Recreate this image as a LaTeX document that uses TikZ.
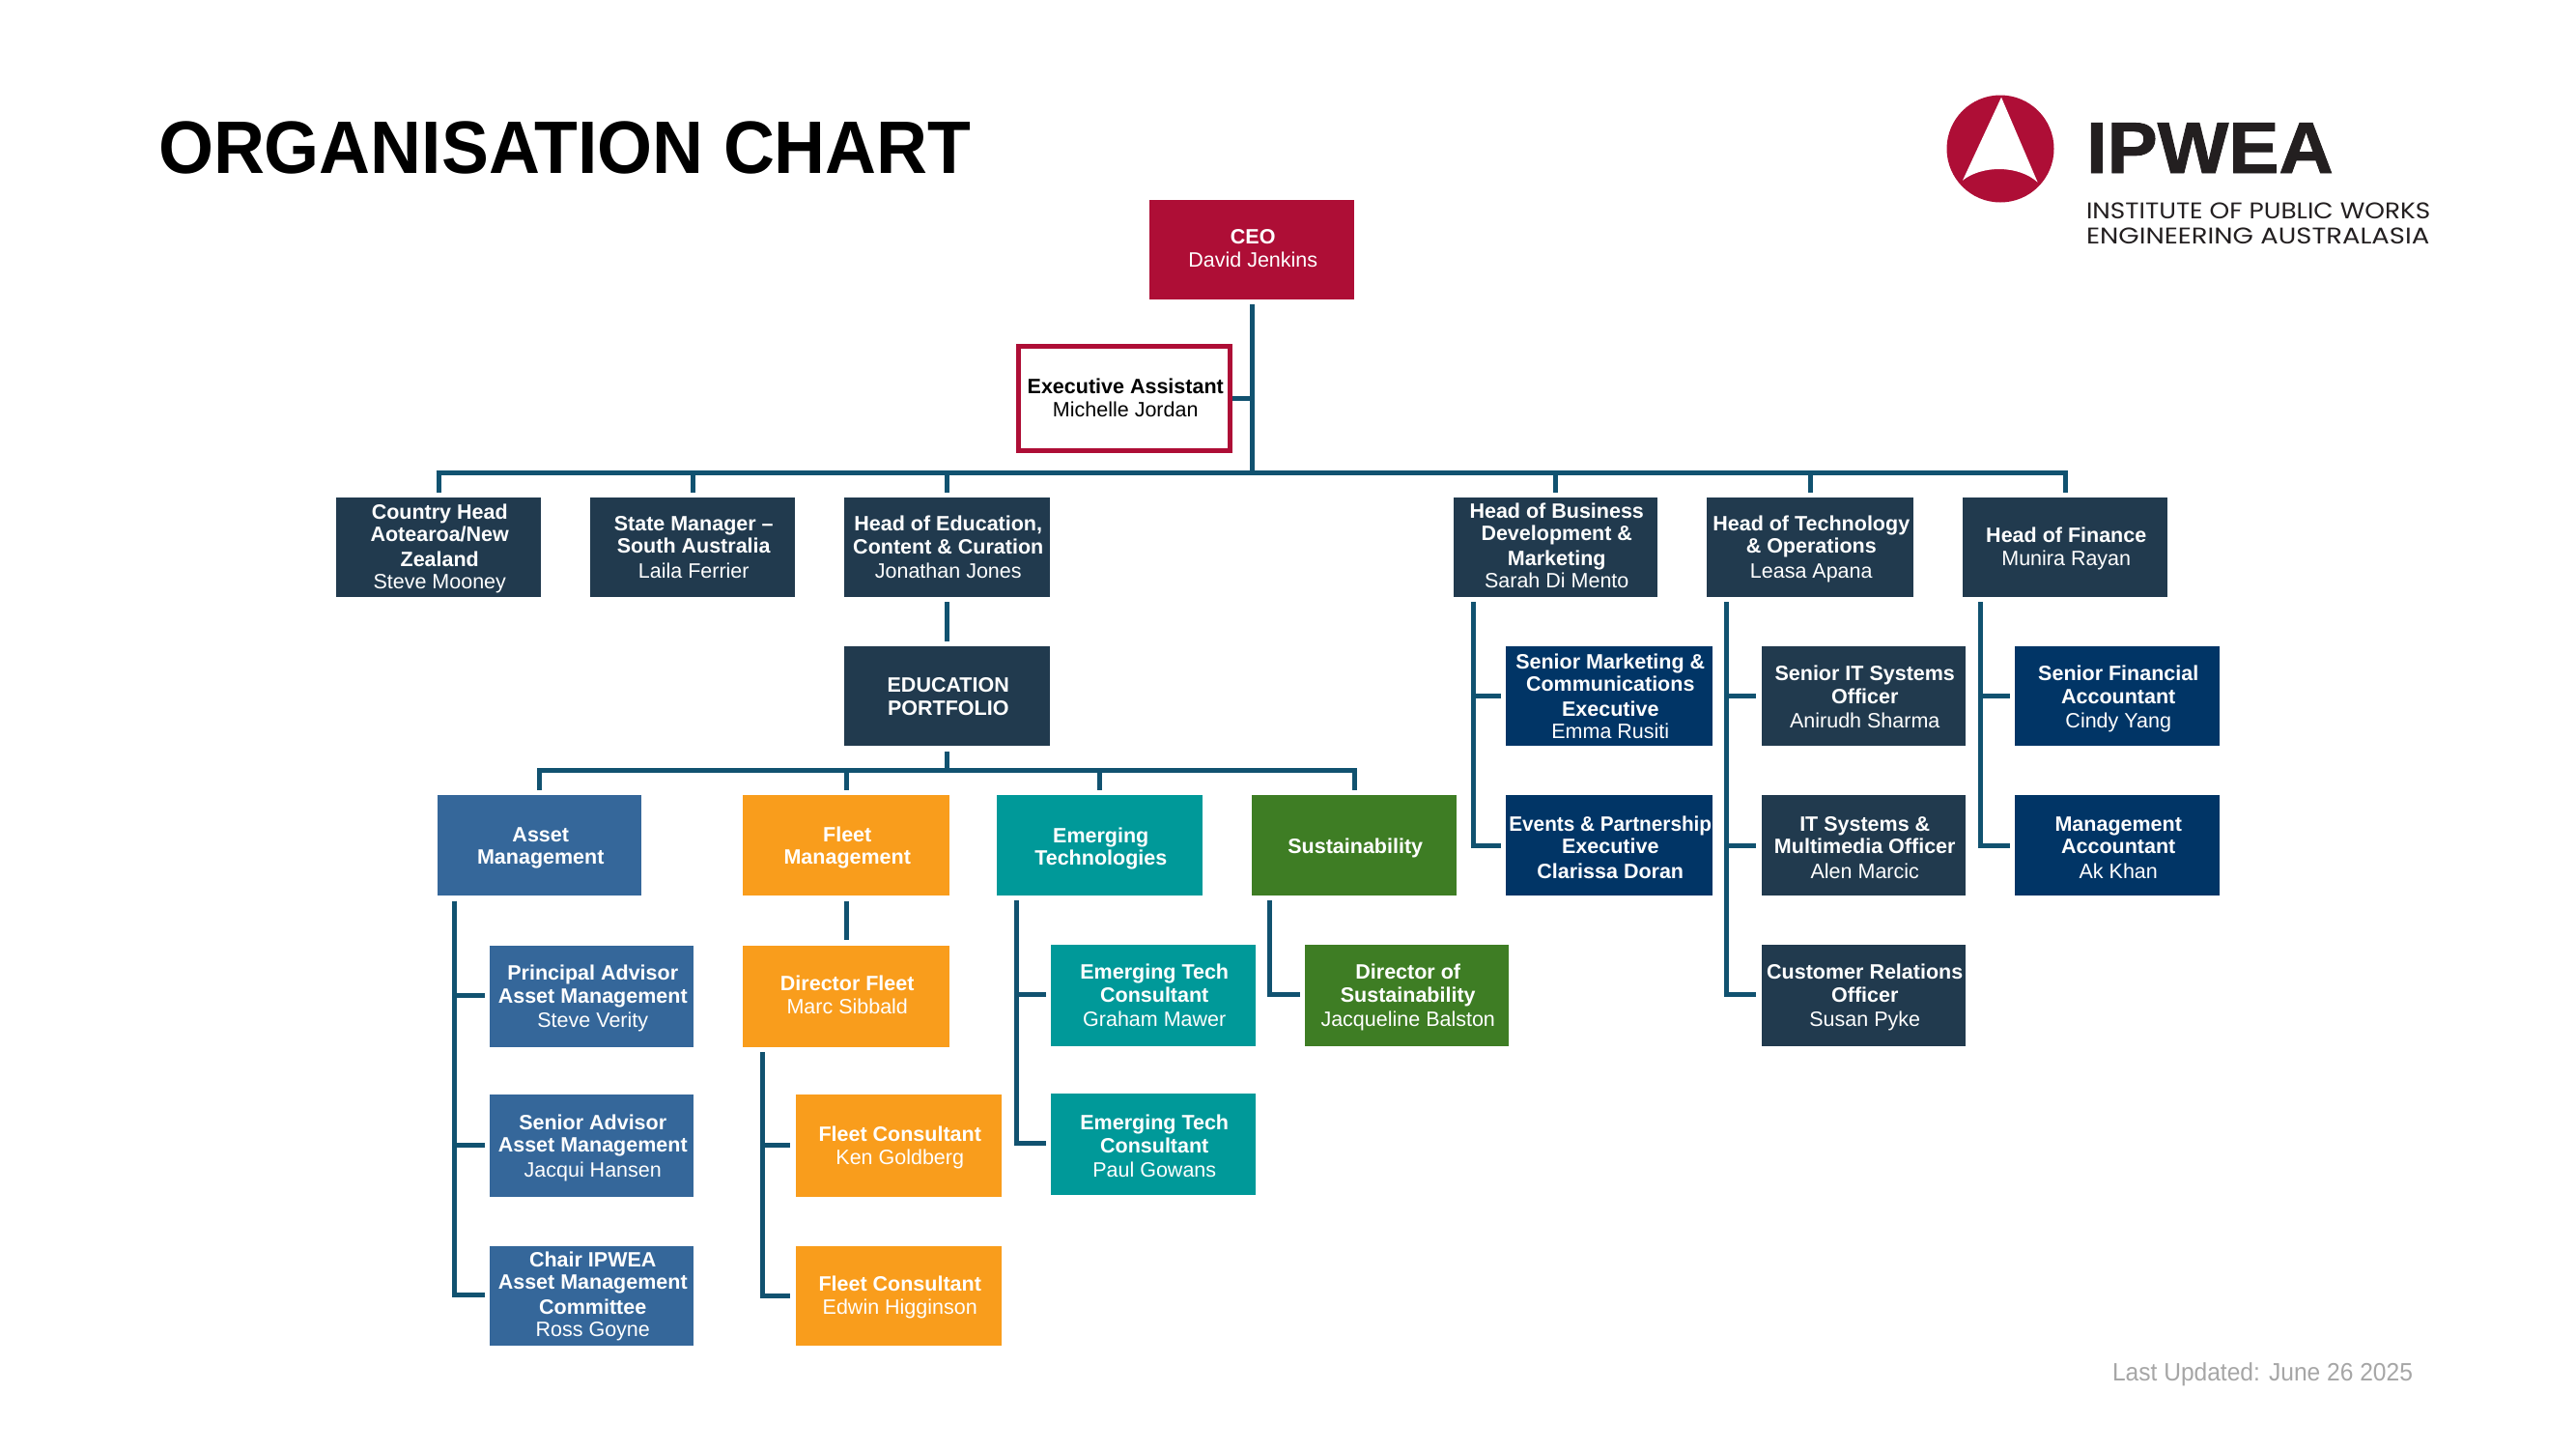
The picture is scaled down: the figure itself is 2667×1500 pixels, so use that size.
\documentclass[tikz,border=0pt]{standalone}
\usepackage{fontspec}
\usepackage{graphicx}
\setmainfont{Liberation Sans}
\newfontfamily\logofont{Poppins}
\newfontfamily\logoheavy[FakeBold=1.2]{Liberation Sans Bold}
\definecolor{crimson}{HTML}{AE0E36}
\definecolor{slatenavy}{HTML}{213A4E}
\definecolor{deepnavy}{HTML}{013566}
\definecolor{assetblue}{HTML}{35679A}
\definecolor{fleetorange}{HTML}{F99D1C}
\definecolor{techteal}{HTML}{009999}
\definecolor{sustgreen}{HTML}{3E7D24}
\definecolor{linkblue}{HTML}{115270}
\definecolor{logoink}{HTML}{231F20}
\definecolor{footgray}{HTML}{A6A6A6}
\newcommand\lift[1]{\rule{0pt}{#1pt}}
\tikzset{
  orgbox/.style={rectangle, draw=none, inner sep=0pt, outer sep=0pt, align=center, text=white,
    font=\fontsize{21.5}{23.5}\selectfont,
    execute at begin node={\hspace*{2.5pt}},
    execute at end node={\rule[-5pt]{0pt}{5pt}}},
  crim/.style={orgbox, fill=crimson},
  slate/.style={orgbox, fill=slatenavy},
  navy/.style={orgbox, fill=deepnavy},
  asset/.style={orgbox, fill=assetblue},
  fleet/.style={orgbox, fill=fleetorange},
  teal/.style={orgbox, fill=techteal},
  sust/.style={orgbox, fill=sustgreen},
  assistant/.style={orgbox, fill=white, draw=crimson, line width=5pt, text=black, outer sep=2.5pt},
  link/.style={draw=linkblue, line width=5pt, line cap=butt, line join=miter},
  plain/.style={inner sep=0pt, outer sep=0pt, anchor=base west},
}
\begin{document}
\begin{tikzpicture}[x=1pt,y=-1pt]
\useasboundingbox (0,0) rectangle (2667,1500);
\fill[white] (0,0) rectangle (2667,1500);

% title and footer
\node[plain, font=\fontsize{77}{77}\selectfont\bfseries] (title) at (164,179.3) {\scalebox{0.952}[1]{ORGANISATION CHART}};
\node[plain, font=\fontsize{26}{26}\selectfont, text=footgray] (updated) at (2187,1429) {\scalebox{0.945}[1]{Last Updated: June 26 2025}};

% logo
\fill[crimson] (2071,154) circle[radius=55.5pt];
\fill[white] (2072,100.7) -- (2032,186.7) .. controls (2052,170.8) and (2090,170.8) .. (2109.6,188.7) -- cycle;
\node[plain, text=logoink, font=\logoheavy\fontsize{75}{75}\selectfont] (logoname) at (2160,179) {\scalebox{1.04}[1]{IPWEA}};
\node[plain, text=logoink, font=\logofont\fontsize{23.5}{23.5}\selectfont] (logoline1) at (2160,226.7) {\scalebox{1.118}[1]{INSTITUTE OF PUBLIC WORKS}};
\node[plain, text=logoink, font=\logofont\fontsize{23.5}{23.5}\selectfont] (logoline2) at (2160,252.7) {\scalebox{1.168}[1]{ENGINEERING AUSTRALASIA}};

% top
\node[crim, minimum width=212pt, minimum height=103pt] (ceo) at (1296,258.5) {\lift{17.4}\textbf{CEO}\\David Jenkins};
\node[assistant, minimum width=219pt, minimum height=107.7pt] (ea) at (1164,412.35) {\lift{19.1}\textbf{Executive Assistant}\\Michelle Jordan};

% level 1
\node[slate, minimum width=212pt, minimum height=103pt] (country) at (454,566.5) {\lift{19.1}\textbf{Country Head}\\\textbf{Aotearoa/New}\\[2pt]\textbf{Zealand}\\Steve Mooney};
\node[slate, minimum width=212pt, minimum height=103pt] (state) at (717,566.5) {\lift{19.1}\textbf{State Manager –}\\\textbf{South Australia}\\[2pt]Laila Ferrier};
\node[slate, minimum width=213pt, minimum height=103pt] (hoe) at (980.5,566.5) {\lift{20.8}\textbf{Head of Education,}\\\textbf{Content \& Curation}\\[2pt]Jonathan Jones};
\node[slate, minimum width=211pt, minimum height=103pt] (hobd) at (1610.5,566.5) {\lift{17.4}\textbf{Head of Business}\\\textbf{Development \&}\\[2pt]\textbf{Marketing}\\Sarah Di Mento};
\node[slate, minimum width=214pt, minimum height=103pt] (hot) at (1874,566.5) {\lift{19.1}\textbf{Head of Technology}\\\textbf{\& Operations}\\[2pt]Leasa Apana};
\node[slate, minimum width=212pt, minimum height=103pt] (hof) at (2138,566.5) {\lift{19.1}\textbf{Head of Finance}\\Munira Rayan};

% education portfolio
\node[slate, minimum width=213pt, minimum height=103pt] (edu) at (980.5,720.5) {\lift{20.8}\textbf{EDUCATION}\\\textbf{PORTFOLIO}};
\node[asset, minimum width=211pt, minimum height=104pt] (assetm) at (558.5,875) {\lift{20.8}\textbf{Asset}\\\textbf{Management}};
\node[fleet, minimum width=214pt, minimum height=104pt] (fleetm) at (876,875) {\lift{20.8}\textbf{Fleet}\\\textbf{Management}};
\node[teal, minimum width=213pt, minimum height=104pt] (emerging) at (1138.5,875) {\lift{22.5}\textbf{Emerging}\\\textbf{Technologies}};
\node[sust, minimum width=212pt, minimum height=104pt] (sustain) at (1402,875) {\lift{21.6}\textbf{Sustainability}};

% asset column
\node[asset, minimum width=211pt, minimum height=105pt] (principal) at (612.5,1031.5) {\lift{20.8}\textbf{Principal Advisor}\\\textbf{Asset Management}\\[2pt]Steve Verity};
\node[asset, minimum width=211pt, minimum height=105.5pt] (senior) at (612.5,1185.75) {\lift{20.8}\textbf{Senior Advisor}\\\textbf{Asset Management}\\[2pt]Jacqui Hansen};
\node[asset, minimum width=211pt, minimum height=103pt] (chair) at (612.5,1341.5) {\lift{17.4}\textbf{Chair IPWEA}\\\textbf{Asset Management}\\[2pt]\textbf{Committee}\\Ross Goyne};

% fleet column
\node[fleet, minimum width=214pt, minimum height=105pt] (director) at (876,1031.5) {\lift{17.4}\textbf{Director Fleet}\\Marc Sibbald};
\node[fleet, minimum width=213pt, minimum height=105.5pt] (fcone) at (930.5,1185.75) {\lift{20.8}\textbf{Fleet Consultant}\\Ken Goldberg};
\node[fleet, minimum width=213pt, minimum height=103pt] (fctwo) at (930.5,1341.5) {\lift{19.1}\textbf{Fleet Consultant}\\Edwin Higginson};

% emerging column
\node[teal, minimum width=212pt, minimum height=105pt] (etone) at (1194,1030.5) {\lift{20.8}\textbf{Emerging Tech}\\\textbf{Consultant}\\[2pt]Graham Mawer};
\node[teal, minimum width=212pt, minimum height=105pt] (ettwo) at (1194,1184.5) {\lift{24.2}\textbf{Emerging Tech}\\\textbf{Consultant}\\[2pt]Paul Gowans};

% sustainability column
\node[sust, minimum width=211pt, minimum height=105pt] (dirsus) at (1456.5,1030.5) {\lift{20.8}\textbf{Director of}\\\textbf{Sustainability}\\[2pt]Jacqueline Balston};

% business development column
\node[navy, minimum width=214pt, minimum height=103pt] (srmkt) at (1666,720.5) {\lift{20.8}\textbf{Senior Marketing \&}\\\textbf{Communications}\\[2pt]\textbf{Executive}\\Emma Rusiti};
\node[navy, minimum width=214pt, minimum height=104pt] (events) at (1666,875) {\lift{24.2}\scalebox{0.965}[1]{\textbf{Events \& Partnership}}\\\textbf{Executive}\\[2pt]\textbf{Clarissa Doran}};

% technology column
\node[slate, minimum width=211pt, minimum height=103pt] (srit) at (1929.5,720.5) {\lift{22.5}\textbf{Senior IT Systems}\\\textbf{Officer}\\[2pt]Anirudh Sharma};
\node[slate, minimum width=211pt, minimum height=104pt] (itmm) at (1929.5,875) {\lift{24.2}\textbf{IT Systems \&}\\\textbf{Multimedia Officer}\\[2pt]Alen Marcic};
\node[slate, minimum width=211pt, minimum height=105pt] (cust) at (1929.5,1030.5) {\lift{20.8}\textbf{Customer Relations}\\\textbf{Officer}\\[2pt]Susan Pyke};

% finance column
\node[navy, minimum width=212pt, minimum height=103pt] (srfin) at (2192,720.5) {\lift{22.5}\textbf{Senior Financial}\\\textbf{Accountant}\\[2pt]Cindy Yang};
\node[navy, minimum width=212pt, minimum height=104pt] (mgmt) at (2192,875) {\lift{24.2}\textbf{Management}\\\textbf{Accountant}\\[2pt]Ak Khan};

% top bus
\coordinate (bustop) at (1295.5,489.3);
\draw[link] ([yshift=-5pt]ceo.south) -- (ceo.south |- bustop);
\draw[link] (ea.east) -- (ceo.south |- ea.east);
\draw[link] ([xshift=-2.5pt]country.north |- bustop) -- ([xshift=2.5pt]hof.north |- bustop);
\foreach \n in {country,state,hoe,hobd,hot,hof}
  \draw[link, shorten >=5pt] (\n.north |- bustop) -- (\n.north);

% education
\draw[link, shorten <=5pt, shorten >=5pt] (hoe.south) -- (edu.north);
\coordinate (busedu) at (980.5,797.3);
\draw[link, shorten <=6pt] (edu.south) -- (edu.south |- busedu);
\draw[link] ([xshift=-2.5pt]assetm.north |- busedu) -- ([xshift=2.5pt]sustain.north |- busedu);
\foreach \n in {assetm,fleetm,emerging,sustain}
  \draw[link, shorten >=5pt] (\n.north |- busedu) -- (\n.north);

% asset tree
\draw[link] ([xshift=17pt,yshift=-5.5pt]assetm.south west) |- ([xshift=-5pt,yshift=1.5pt]principal.west);
\draw[link] ([xshift=17pt,yshift=-5.5pt]assetm.south west) |- ([xshift=-5pt,yshift=0.5pt]senior.west);
\draw[link] ([xshift=17pt,yshift=-5.5pt]assetm.south west) |- ([xshift=-5pt,yshift=1.5pt]chair.west);

% fleet tree
\draw[link, shorten <=5.5pt, shorten >=6pt] (fleetm.south) -- (director.north);
\draw[link] ([xshift=20.4pt,yshift=-5pt]director.south west) |- ([xshift=-6pt]fcone.west);
\draw[link] ([xshift=20.4pt,yshift=-5pt]director.south west) |- ([xshift=-6pt]fctwo.west);

% emerging tree
\draw[link] ([xshift=20.5pt,yshift=-5pt]emerging.south west) |- ([xshift=-5pt,yshift=1.5pt]etone.west);
\draw[link] ([xshift=20.5pt,yshift=-5pt]emerging.south west) |- ([xshift=-5pt,yshift=1.5pt]ettwo.west);

% sustainability tree
\draw[link] ([xshift=18pt,yshift=-5pt]sustain.south west) |- ([xshift=-5pt,yshift=1.5pt]dirsus.west);

% business development tree
\draw[link] ([xshift=20.7pt,yshift=-5pt]hobd.south west) |- ([xshift=-5pt]srmkt.west);
\draw[link] ([xshift=20.7pt,yshift=-5pt]hobd.south west) |- ([xshift=-5pt]events.west);

% technology tree
\draw[link] ([xshift=20.5pt,yshift=-5pt]hot.south west) |- ([xshift=-6pt]srit.west);
\draw[link] ([xshift=20.5pt,yshift=-5pt]hot.south west) |- ([xshift=-6pt]itmm.west);
\draw[link] ([xshift=20.5pt,yshift=-5pt]hot.south west) |- ([xshift=-6pt,yshift=1pt]cust.west);

% finance tree
\draw[link] ([xshift=18.3pt,yshift=-5pt]hof.south west) |- ([xshift=-5pt]srfin.west);
\draw[link] ([xshift=18.3pt,yshift=-5pt]hof.south west) |- ([xshift=-5pt]mgmt.west);
\end{tikzpicture}
\end{document}
